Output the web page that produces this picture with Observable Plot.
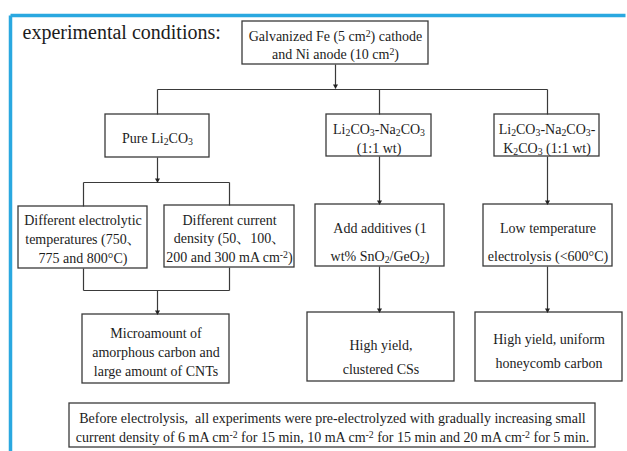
<!DOCTYPE html>
<html><head><meta charset="utf-8">
<script src="https://cdn.jsdelivr.net/npm/d3@7"></script>
<script src="https://cdn.jsdelivr.net/npm/@observablehq/plot@0.6"></script>
<style>
html,body{margin:0;padding:0;background:#fff;overflow:hidden;width:627px;height:451px;}
svg text{font-family:"Liberation Serif","Noto Serif CJK SC","Noto Sans CJK SC",serif;}
</style>
</head><body><div id="chart"></div>
<script>
// ---- Flowchart data (layout units = canvas units) ----
const titleText = "experimental conditions:";
const nodeLabels = [
  "Galvanized Fe (5 cm^{2}) cathode\nand Ni anode (10 cm^{2})",
  "Pure Li_{2}CO_{3}",
  "Li_{2}CO_{3}-Na_{2}CO_{3}\n(1:1 wt)",
  "Li_{2}CO_{3}-Na_{2}CO_{3}-\nK_{2}CO_{3} (1:1 wt)",
  "Different electrolytic\ntemperatures (750、\n775 and 800°C)",
  "Different current\ndensity (50、100、\n200 and 300 mA cm^{-2})",
  "Add additives (1\nwt% SnO_{2}/GeO_{2})",
  "Low temperature\nelectrolysis (<600°C)",
  "Microamount of\namorphous carbon and\nlarge amount of CNTs",
  "High yield,\nclustered CSs",
  "High yield, uniform\nhoneycomb carbon",
  "Before electrolysis,  all experiments were pre-electrolyzed with gradually increasing small\ncurrent density of 6 mA cm^{-2} for 15 min, 10 mA cm^{-2} for 15 min and 20 mA cm^{-2} for 5 min."
];
const nodeX1 = [242, 105, 326, 494, 18, 164, 315, 483, 82, 307, 475, 69];
const nodeX2 = [428, 209, 431, 599, 147, 294, 444, 612, 229, 454, 622, 595];
const nodeY1 = [21, 114, 114, 114, 206, 205, 204, 204, 314, 312, 312, 403];
const nodeY2 = [64, 157, 156, 156, 268, 267, 266, 266, 383, 381, 381, 447];
const labelY = [43.5, 136.5, 137, 137, 237.5, 237, 238, 238, 350.5, 353.5, 347.5, 426];
const labelSpacing = ["normal","normal","normal","normal","normal","normal","wide","wide","normal","mid","mid","normal"];

// connector lines (no arrowhead)
const lineX1 = [157, 157, 379, 547, 83, 83, 229, 83, 229, 83];
const lineY1 = [89, 89, 89, 89, 182, 182, 182, 268, 267, 290];
const lineX2 = [547, 157, 379, 547, 229, 83, 229, 83, 229, 229];
const lineY2 = [89, 114, 114, 114, 182, 206, 205, 290, 290, 290];

// arrows (vertical, pointing down)
const arrowX  = [335, 157, 157, 379, 547, 379, 547];
const arrowY1 = [64, 157, 290, 156, 156, 266, 266];
const arrowY2 = [88, 182, 314, 204, 204, 312, 312];

// outer panel border (left and top edges; the rest is cut off)
const borderX1 = [10, 10];
const borderY1 = [15, 15];
const borderX2 = [625, 10];
const borderY2 = [15, 451];

// ---- build ----
const serif = "Liberation Serif";
const ink = "#3a3a3a";
const txt = "#1c1c1c";
const idx = d3.range(nodeLabels.length);
const lines = d3.range(lineX1.length);
const arrows = d3.range(arrowX.length);
const borders = d3.range(borderX1.length);
const spacingLH = {normal: 1.33, mid: 1.72, wide: 2.0};

const textMarks = Object.keys(spacingLH).map(k =>
  Plot.text(idx.filter(i => labelSpacing[i] === k), {
    x: i => (nodeX1[i] + nodeX2[i]) / 2,
    y: i => labelY[i],
    text: i => nodeLabels[i],
    lineHeight: spacingLH[k],
    fontSize: 14,
    fontFamily: serif,
    fill: txt
  })
);

const svg = Plot.plot({
  width: 627,
  height: 451,
  margin: 0,
  x: {domain: [0, 627], range: [0, 627], axis: null},
  y: {domain: [0, 451], range: [0, 451], axis: null},
  style: {background: "white", overflow: "hidden"},
  marks: [
    Plot.link(borders, {x1: i => borderX1[i], y1: i => borderY1[i], x2: i => borderX2[i], y2: i => borderY2[i], stroke: "#2aa8e0", strokeWidth: 3.5, strokeLinecap: "butt"}),
    Plot.rect(idx, {x1: i => nodeX1[i], x2: i => nodeX2[i], y1: i => nodeY1[i], y2: i => nodeY2[i], fill: "white", stroke: ink, strokeWidth: 1.3}),
    Plot.link(lines, {x1: i => lineX1[i], y1: i => lineY1[i], x2: i => lineX2[i], y2: i => lineY2[i], stroke: ink, strokeWidth: 1.2}),
    Plot.link(arrows, {x1: i => arrowX[i], y1: i => arrowY1[i], x2: i => arrowX[i], y2: i => arrowY2[i], stroke: ink, strokeWidth: 1.2}),
    Plot.dot(arrows, {x: i => arrowX[i], y: i => arrowY2[i], symbol: "triangle", rotate: 180, r: 1.9, dy: -2.6, fill: "#222", stroke: "none"}),
    ...textMarks,
    Plot.text([titleText], {x: 22, y: 32, text: d => d, textAnchor: "start", fontSize: 20, fontFamily: serif, fill: txt})
  ]
});

// rich text: _{..} subscript, ^{..} superscript
(function richify(root) {
  const NS = "http://www.w3.org/2000/svg";
  root.querySelectorAll("text, tspan").forEach(el => {
    if (el.children.length) return;
    const s = el.textContent;
    if (!/[_^]\{[^}]*\}/.test(s)) return;
    el.textContent = "";
    for (const p of s.split(/([_^]\{[^}]*\})/)) {
      if (!p) continue;
      const m = p.match(/^([_^])\{([^}]*)\}$/);
      const t = document.createElementNS(NS, "tspan");
      if (m) {
        t.textContent = m[2];
        t.setAttribute("baseline-shift", m[1] === "_" ? "-0.2em" : "0.38em");
        t.setAttribute("font-size", "0.7em");
      } else t.textContent = p;
      el.appendChild(t);
    }
  });
})(svg);

document.getElementById("chart").appendChild(svg);
</script>
</body></html>
